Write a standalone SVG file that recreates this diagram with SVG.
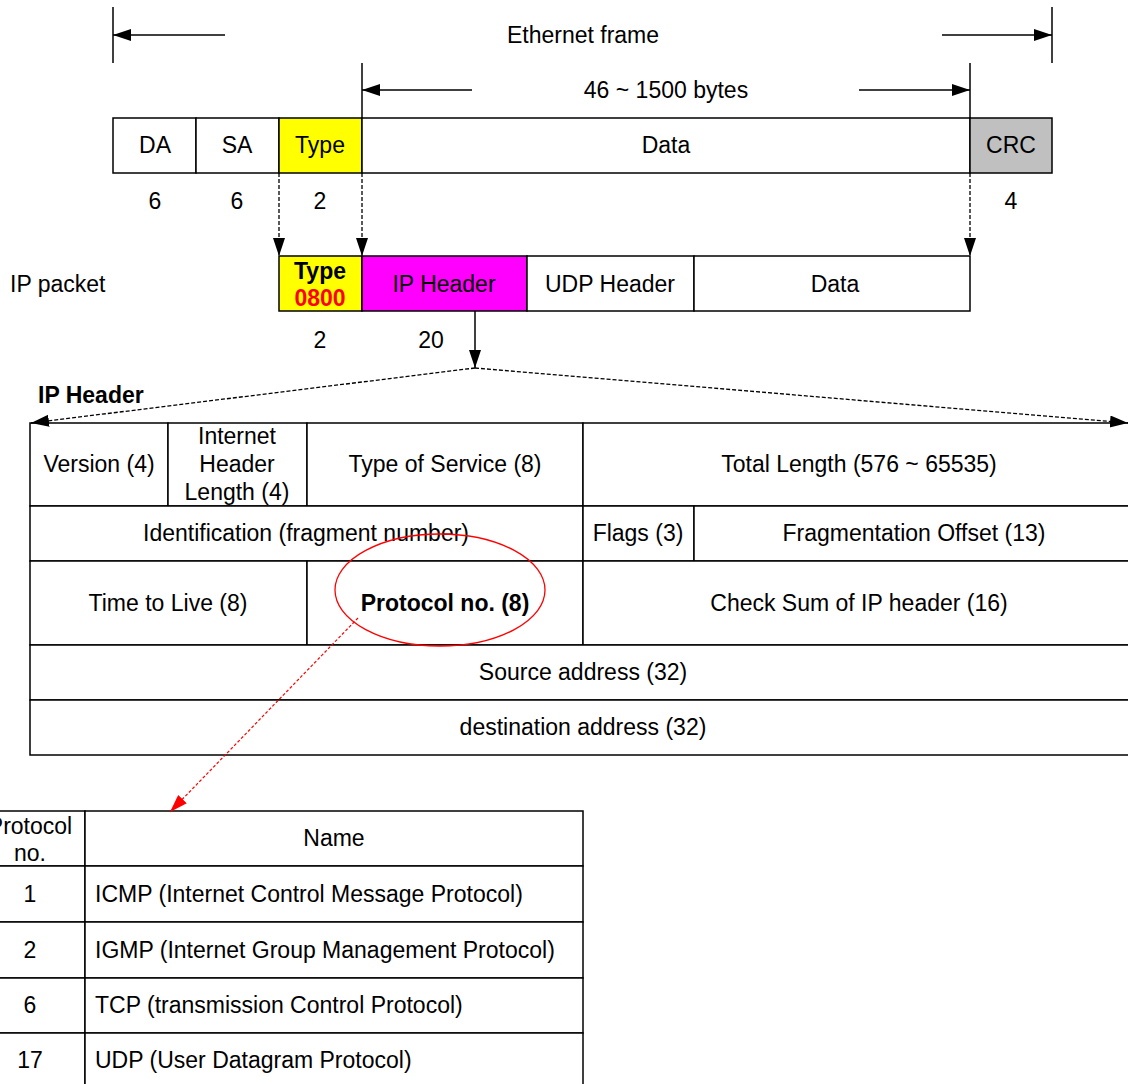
<svg xmlns="http://www.w3.org/2000/svg" width="1128" height="1084" viewBox="0 0 1128 1084">
<style>
text{font-family:"Liberation Sans",Arial,sans-serif;font-size:23px;fill:#000}
.c{text-anchor:middle}
.b{font-weight:bold}
.cell{stroke:#000;stroke-width:1.5;fill:#fff}
.ln{stroke:#000;stroke-width:1.5;fill:none}
.dash{stroke:#000;stroke-width:1.3;fill:none;stroke-dasharray:4 2}
.rdash{stroke:#f00;stroke-width:1.2;fill:none;stroke-dasharray:3 2}
</style>
<defs>
<marker id="ah" markerUnits="userSpaceOnUse" markerWidth="20" markerHeight="14" refX="18" refY="6" orient="auto">
<path d="M0,0 L18,6 L0,12 Z" fill="#000"/>
</marker>
<marker id="ahr" markerUnits="userSpaceOnUse" markerWidth="20" markerHeight="14" refX="18" refY="6" orient="auto">
<path d="M0,0 L18,6 L0,12 Z" fill="#f00"/>
</marker>
</defs>
<rect width="1128" height="1084" fill="#fff"/>

<text class="c" x="583" y="43">Ethernet  frame</text>
<text class="c" x="666" y="98">46 ~ 1500 bytes</text>

<g id="ethernet-frame">
<rect class="cell" x="113" y="118" width="83" height="55"/>
<text class="c" x="155" y="153">DA</text>
<rect class="cell" x="196" y="118" width="83" height="55"/>
<text class="c" x="237" y="153">SA</text>
<rect class="cell" x="279" y="118" width="83" height="55" style="fill:#ffff00"/>
<text class="c" x="320" y="153">Type</text>
<rect class="cell" x="362" y="118" width="608" height="55"/>
<text class="c" x="666" y="153">Data</text>
<rect class="cell" x="970" y="118" width="82" height="55" style="fill:#c0c0c0"/>
<text class="c" x="1011" y="153">CRC</text>
<text class="c" x="155" y="209">6</text>
<text class="c" x="237" y="209">6</text>
<text class="c" x="320" y="209">2</text>
<text class="c" x="1011" y="209">4</text>
</g>

<g id="ip-packet">
<text x="10" y="292">IP packet</text>
<rect class="cell" x="279" y="256" width="83" height="55" style="fill:#ffff00"/>
<text class="c b" x="320" y="279">Type</text>
<text class="c b" x="320" y="306" style="fill:#f00">0800</text>
<rect class="cell" x="362" y="256" width="165" height="55" style="fill:#ff00ff"/>
<text class="c" x="444" y="292">IP Header</text>
<rect class="cell" x="527" y="256" width="167" height="55"/>
<text class="c" x="610" y="292">UDP Header</text>
<rect class="cell" x="694" y="256" width="276" height="55"/>
<text class="c" x="835" y="292">Data</text>
<text class="c" x="320" y="348">2</text>
<text class="c" x="431" y="348">20</text>
</g>

<g id="ip-header">
<text class="b" x="38" y="403">IP Header</text>
<rect class="cell" x="30" y="423" width="138" height="83"/>
<text class="c" x="99" y="472">Version (4)</text>
<rect class="cell" x="168" y="423" width="139" height="83"/>
<text class="c" x="237" y="444">Internet</text>
<text class="c" x="237" y="472">Header</text>
<text class="c" x="237" y="500">Length (4)</text>
<rect class="cell" x="307" y="423" width="276" height="83"/>
<text class="c" x="445" y="472">Type of Service (8)</text>
<rect class="cell" x="583" y="423" width="552" height="83"/>
<text class="c" x="859" y="472">Total Length (576 ~ 65535)</text>

<rect class="cell" x="30" y="506" width="553" height="55"/>
<text class="c" x="306" y="541">Identification (fragment number)</text>
<rect class="cell" x="583" y="506" width="111" height="55"/>
<text class="c" x="638" y="541">Flags (3)</text>
<rect class="cell" x="694" y="506" width="441" height="55"/>
<text class="c" x="914" y="541">Fragmentation Offset (13)</text>

<rect class="cell" x="30" y="561" width="277" height="84"/>
<text class="c" x="168" y="611">Time to Live (8)</text>
<rect class="cell" x="307" y="561" width="276" height="84"/>
<text class="c b" x="445" y="611">Protocol no. (8)</text>
<rect class="cell" x="583" y="561" width="552" height="84"/>
<text class="c" x="859" y="611">Check Sum of IP header (16)</text>

<rect class="cell" x="30" y="645" width="1105" height="55"/>
<text class="c" x="583" y="680">Source address (32)</text>
<rect class="cell" x="30" y="700" width="1105" height="55"/>
<text class="c" x="583" y="735">destination address (32)</text>

<ellipse cx="440" cy="590" rx="105" ry="56" fill="none" stroke="#f00" stroke-width="1.3"/>
</g>

<g id="protocol-table">
<rect class="cell" x="-25" y="811" width="110" height="55"/>
<text class="c" x="30" y="834">Protocol</text>
<text class="c" x="30" y="861">no.</text>
<rect class="cell" x="85" y="811" width="498" height="55"/>
<text class="c" x="334" y="846">Name</text>

<rect class="cell" x="-25" y="866" width="110" height="56"/>
<text class="c" x="30" y="902">1</text>
<rect class="cell" x="85" y="866" width="498" height="56"/>
<text x="95" y="902">ICMP (Internet Control Message Protocol)</text>

<rect class="cell" x="-25" y="922" width="110" height="56"/>
<text class="c" x="30" y="958">2</text>
<rect class="cell" x="85" y="922" width="498" height="56"/>
<text x="95" y="958">IGMP (Internet Group Management Protocol)</text>

<rect class="cell" x="-25" y="978" width="110" height="55"/>
<text class="c" x="30" y="1013">6</text>
<rect class="cell" x="85" y="978" width="498" height="55"/>
<text x="95" y="1013">TCP (transmission Control Protocol)</text>

<rect class="cell" x="-25" y="1033" width="110" height="60"/>
<text class="c" x="30" y="1068">17</text>
<rect class="cell" x="85" y="1033" width="498" height="60"/>
<text x="95" y="1068">UDP (User Datagram Protocol)</text>
</g>

<g id="connectors">
<line class="ln" x1="113" y1="7" x2="113" y2="63"/>
<line class="ln" x1="1052" y1="7" x2="1052" y2="63"/>
<line class="ln" x1="225" y1="35" x2="113" y2="35" marker-end="url(#ah)"/>
<line class="ln" x1="942" y1="35" x2="1052" y2="35" marker-end="url(#ah)"/>
<line class="ln" x1="362" y1="63" x2="362" y2="118"/>
<line class="ln" x1="970" y1="63" x2="970" y2="118"/>
<line class="ln" x1="472" y1="90" x2="362" y2="90" marker-end="url(#ah)"/>
<line class="ln" x1="859" y1="90" x2="970" y2="90" marker-end="url(#ah)"/>
<line class="dash" x1="279" y1="173" x2="279" y2="256" marker-end="url(#ah)"/>
<line class="dash" x1="362" y1="173" x2="362" y2="256" marker-end="url(#ah)"/>
<line class="dash" x1="970" y1="173" x2="970" y2="256" marker-end="url(#ah)"/>
<line class="ln" x1="475" y1="311" x2="475" y2="368" marker-end="url(#ah)"/>
<line class="dash" x1="475" y1="368" x2="31" y2="423" marker-end="url(#ah)"/>
<line class="dash" x1="475" y1="368" x2="1128" y2="423" marker-end="url(#ah)"/>
<line class="rdash" x1="358" y1="618" x2="170" y2="812" marker-end="url(#ahr)"/>
</g>
</svg>
